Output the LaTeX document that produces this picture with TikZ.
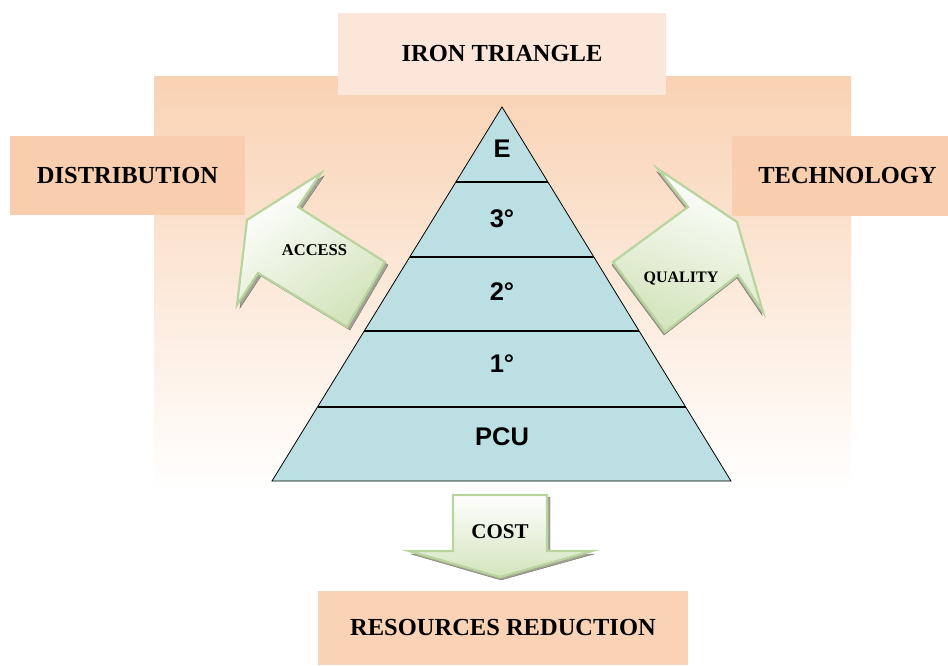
\documentclass[tikz,border=0pt]{standalone}
\usepackage{fontspec}
\setmainfont{Liberation Serif}
\newfontfamily\labfont{Liberation Sans}
\usetikzlibrary{calc}
\definecolor{bgtop}{HTML}{F9D2B3}
\definecolor{boxpeach}{HTML}{F9CEAE}
\definecolor{boxlight}{HTML}{FCE6D9}
\definecolor{tri}{HTML}{BBDFE3}
\definecolor{arrgreen}{HTML}{D3E4BC}
\definecolor{arredge}{HTML}{B9D49F}
\definecolor{shadowc}{HTML}{A4A494}
\tikzset{
  labelbox/.style={fill=boxpeach, inner sep=0pt, font=\bfseries\fontsize{24.5}{28}\selectfont, text=black},
  tierlabel/.style={font=\labfont\bfseries\fontsize{25.5}{30}\selectfont, text=black},
  arrowlabel/.style={font=\bfseries\fontsize{16.5}{18}\selectfont, text=black},
  fatarrow/.style={draw=arredge, line width=2.2pt, line join=miter, top color=white, bottom color=arrgreen},
  arrowshadow/.style={fill=shadowc, draw=shadowc!70!black, line width=0.4pt},
  tierline/.style={line width=1.3pt}
}
\begin{document}
\begin{tikzpicture}[x=1pt,y=-1pt]
\useasboundingbox (0,0) rectangle (948,666);
% background panel
\shade[top color=bgtop, bottom color=white] (154,77) rectangle (851,490);
% label boxes
\node[labelbox, fill=boxlight, minimum width=328pt, minimum height=82pt] (iron) at (502,54) {IRON TRIANGLE};
\node[labelbox, minimum width=235pt, minimum height=79pt] (dist) at (127.5,175.5) {DISTRIBUTION};
\node[labelbox, minimum width=231pt, minimum height=80pt] (tech) at (847.5,176) {TECHNOLOGY};
\node[labelbox, fill=boxpeach!90!white, minimum width=370pt, minimum height=74pt] (res) at (503,628) {RESOURCES REDUCTION};
% ACCESS arrow
\fill[arrowshadow] (324,176) -- (301,210) -- (388,265) -- (350,330) -- (261,276) -- (240,308) -- (250,223) -- cycle;
\path[fatarrow, shading angle=35] (321,173) -- (298,207) -- (385,262) -- (347,327) -- (258,273) -- (237,305) -- (247,220) -- cycle;
\node[arrowlabel] (access) at (314.5,250) {ACCESS};
% QUALITY arrow
\fill[arrowshadow] (657,172) -- (687,210) -- (612,265) -- (664,335) -- (737,278) -- (762,315) -- (736,225) -- cycle;
\path[fatarrow, shading angle=-20] (658,169) -- (688,207) -- (613,262) -- (665,332) -- (738,275) -- (763,312) -- (737,222) -- cycle;
\node[arrowlabel, font=\bfseries\fontsize{16}{18}\selectfont] (quality) at (681,278) {QUALITY};
% COST arrow
\fill[arrowshadow] (456,497) -- (550,497) -- (550,554) -- (594,554) -- (501,580) -- (411,554) -- (456,554) -- cycle;
\path[fatarrow] (453,495) -- (547,495) -- (547,551) -- (592,551) -- (500,577) -- (409,551) -- (453,551) -- cycle;
\node[arrowlabel, font=\bfseries\fontsize{21}{24}\selectfont] (cost) at (500,532) {COST};
% pyramid
\coordinate (apex) at (502,107);
\coordinate (bl) at (272,481);
\coordinate (br) at (731,481);
\draw[fill=tri, line width=0.8pt] (apex) -- (br) -- (bl) -- cycle;
\foreach \t/\n in {0.2005/a,0.401/b,0.599/c,0.802/d}{
  \coordinate (l\n) at ($(apex)!\t!(bl)$);
  \coordinate (r\n) at ($(apex)!\t!(br)$);
  \draw[tierline] (l\n) -- (r\n);
}
\node[tierlabel] (e) at (502,149) {E};
\node[tierlabel] (t3) at (502,219) {3°};
\node[tierlabel] (t2) at (502,292) {2°};
\node[tierlabel] (t1) at (502,364) {1°};
\node[tierlabel] (pcu) at (502,437) {PCU};
\end{tikzpicture}
\end{document}
